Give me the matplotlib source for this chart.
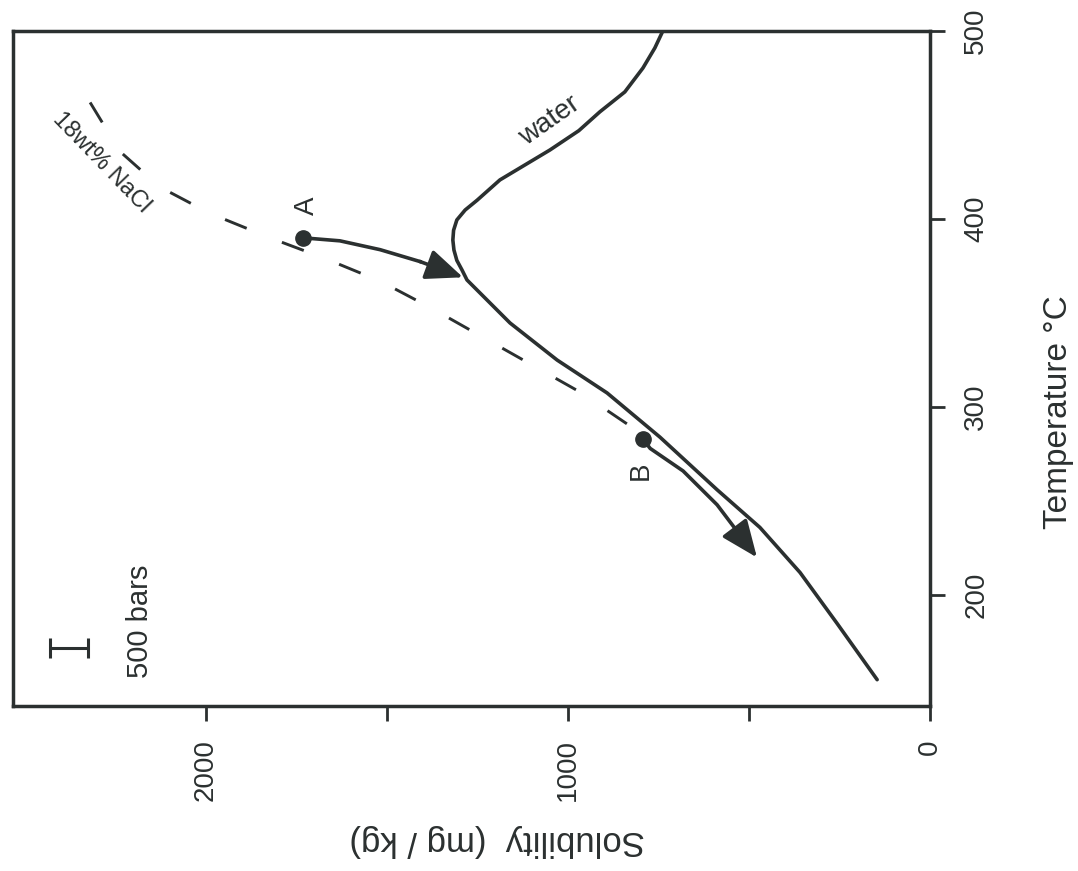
import matplotlib
matplotlib.use("Agg")
import matplotlib.pyplot as plt

plt.rcParams['font.family'] = ['Liberation Sans', 'DejaVu Sans']

# Data (solubility mg/kg vs temperature °C); chart is drawn rotated 90° CCW
water_T = [155, 185, 212, 236, 256, 284, 307.5, 325, 344.7, 367.6, 373, 378, 383.5, 388.8, 394, 399.5, 404.8, 410, 420.8, 436.7, 447, 457, 467.6, 480.3, 491, 500]
water_sol = [146, 257, 359, 470, 588, 746, 892, 1030, 1160, 1279, 1293, 1307, 1315, 1318, 1316, 1307, 1284, 1251, 1188, 1050, 970, 912, 843, 793, 760, 738]

nacl_T = [462, 436, 417, 403, 390, 379, 367, 353, 338, 323, 308, 290, 284]
nacl_sol = [2320, 2238, 2127, 1989, 1823, 1671, 1519, 1381, 1243, 1105, 967, 829, 800]

pathA_T = [390, 388.4, 383.7, 377.4, 369]
pathA_sol = [1732, 1630, 1519, 1409, 1290]

pathB_T = [283, 278, 266, 248, 234, 220]
pathB_sol = [793, 773, 682, 588, 533, 478]

point_labels = ['A', 'B']
point_T = [390, 283]
point_sol = [1732, 793]

sol_ticks = [0, 500, 1000, 1500, 2000]
sol_ticklabels = ['0', '', '1000', '', '2000']
temp_ticks = [200, 300, 400, 500]
temp_ticklabels = ['200', '300', '400', '500']

err_sol = 2378
err_half = 53
err_T = 172

C = '#2b3030'

fig = plt.figure(figsize=(10.78, 8.71), dpi=100)
W, H = 1078, 871
ax = fig.add_axes([13 / W, 1 - 706 / H, (930 - 13) / W, (706 - 31) / H])
ax.set_xlim(2533, 0)
ax.set_ylim(141, 500)

ax.plot(water_sol, water_T, color=C, lw=2.6, solid_capstyle='round', solid_joinstyle='round')
ax.plot(nacl_sol, nacl_T, color=C, lw=2.1, linestyle=(0, (8, 13)))

for s, t in ((pathA_sol, pathA_T), (pathB_sol, pathB_T)):
    ax.plot(s[:-1], t[:-1], color=C, lw=2.6, solid_joinstyle='round')
    ax.annotate('', xy=(s[-1], t[-1]), xytext=(s[-2], t[-2]),
                arrowprops=dict(arrowstyle='-|>,head_length=0.65,head_width=0.27',
                                mutation_scale=35, color=C, lw=2.6,
                                shrinkA=0, shrinkB=0))

ax.plot(point_sol, point_T, 'o', color=C, markersize=11, zorder=5)
ax.text(1720, 407, point_labels[0], rotation=90, fontsize=20, color=C,
        ha='center', va='center')
ax.text(800, 266, point_labels[1], rotation=90, fontsize=20, color=C,
        ha='center', va='center')

ax.errorbar([err_sol], [err_T], xerr=[err_half], fmt='none', ecolor=C,
            elinewidth=2.2, capsize=7, capthick=2.2)
ax.text(2182, 186, '500 bars', rotation=90, fontsize=21, color=C,
        ha='center', va='center')

ax.text(1050, 452, 'water', rotation=35, fontsize=20, color=C,
        ha='center', va='center')
ax.text(2290, 430, '18wt% NaCl', rotation=-46, fontsize=17, color=C,
        ha='center', va='center')

# axes styling
for side in ['left', 'right', 'top', 'bottom']:
    ax.spines[side].set_linewidth(2.5)
    ax.spines[side].set_color(C)
ax.yaxis.tick_right()
ax.set_xticks(sol_ticks)
ax.set_xticklabels(sol_ticklabels, rotation=90, fontsize=20, color=C)
ax.set_yticks(temp_ticks)
ax.set_yticklabels(temp_ticklabels, rotation=90, fontsize=20, color=C, va='center')
ax.tick_params(axis='both', direction='out', length=11, width=2, color=C, pad=13)
ax.tick_params(axis='y', left=False, right=True)

fig.text(1058 / W, 1 - 412 / H, 'Temperature °C', rotation=90, fontsize=24,
         color=C, ha='center', va='center')
fig.text(497 / W, 1 - 840 / H, 'Solubility  (mg / kg)', rotation=180, fontsize=25,
         color=C, ha='center', va='center')

fig.savefig('out.png', dpi=100)
